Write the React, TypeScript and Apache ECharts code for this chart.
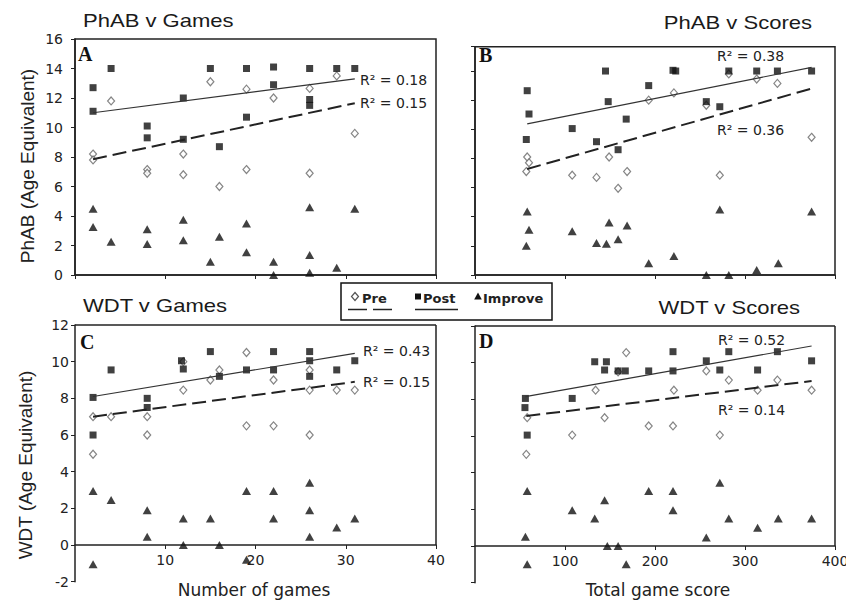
import React, { useEffect, useRef } from "react";
import * as echarts from "echarts";

// ---- Panel A: PhAB v Games ----
const phabGamesPre = [[2, 8.2], [2, 7.8], [4, 11.8], [8, 7.15], [8, 6.9], [12, 8.2], [12, 6.8], [15, 13.1], [16, 6.0], [19, 12.6], [19, 7.15], [22, 12.0], [26, 12.65], [26, 6.9], [29, 13.5], [31, 9.6]];
const phabGamesPost = [[2, 12.7], [2, 11.1], [4, 14.0], [8, 10.1], [8, 9.3], [12, 12.0], [12, 9.2], [15, 14.0], [16, 8.7], [19, 14.0], [19, 10.7], [22, 14.1], [22, 12.9], [26, 14.0], [26, 11.9], [26, 11.5], [29, 14.0], [31, 14.0]];
const phabGamesImprove = [[2, 4.5], [2, 3.25], [4, 2.25], [8, 3.1], [8, 2.1], [12, 3.75], [12, 2.35], [15, 0.9], [16, 2.6], [19, 3.5], [19, 1.55], [22, 0.9], [22, 0], [26, 4.6], [26, 1.35], [26, 0.15], [29, 0.5], [31, 4.5]];
const phabGamesPostFit = [[2, 11.0], [31, 13.3]];
const phabGamesPreFit = [[2, 7.85], [31, 11.65]];

// ---- Panel B: PhAB v Scores ----
const phabScoresPre = [[57, 7.1], [58, 8.1], [60, 7.7], [108, 6.85], [135, 6.7], [149, 8.1], [159, 5.95], [169, 7.1], [193, 12.0], [221, 12.5], [257, 11.65], [272, 6.85], [282, 13.8], [313, 13.45], [336, 13.15], [374, 9.45]];
const phabScoresPost = [[57, 9.3], [58, 12.65], [60, 11.05], [108, 10.05], [135, 9.15], [145, 14.0], [148, 11.9], [159, 8.6], [168, 10.7], [193, 13.0], [220, 14.05], [223, 14.0], [257, 11.9], [272, 11.55], [282, 14.0], [313, 14.0], [336, 14.0], [374, 14.0]];
const phabScoresImprove = [[57, 2.0], [58, 4.35], [60, 3.1], [108, 3.0], [135, 2.2], [146, 2.15], [149, 3.6], [159, 2.45], [169, 3.4], [193, 0.8], [221, 1.3], [257, 0], [272, 4.5], [282, 0], [313, 0.35], [337, 0.8], [374, 4.35]];
const phabScoresPostFit = [[58, 10.37], [374, 14.25]];
const phabScoresPreFit = [[58, 7.28], [374, 12.8]];

// ---- Panel C: WDT v Games ----
const wdtGamesPre = [[2, 7.0], [2, 4.95], [4, 7.0], [8, 7.0], [8, 6.0], [12, 8.45], [12, 10.0], [15, 9.0], [16, 9.55], [19, 10.5], [19, 6.5], [22, 9.0], [22, 6.5], [26, 9.55], [26, 8.45], [26, 6.0], [29, 8.45], [31, 8.45]];
const wdtGamesPost = [[2, 8.05], [2, 6.0], [4, 9.55], [8, 8.0], [8, 7.5], [11.8, 10.05], [12, 9.6], [15, 10.55], [16, 9.2], [19, 9.55], [22, 10.55], [22, 9.55], [26, 10.55], [26, 10.05], [26, 9.2], [29, 9.55], [31, 10.05]];
const wdtGamesImprove = [[2, 2.95], [2, -1.05], [4, 2.45], [8, 1.9], [8, 0.45], [12, 1.45], [12, 0], [15, 1.45], [16, 0], [19, 2.95], [19, -0.8], [22, 2.95], [22, 1.45], [26, 3.4], [26, 1.9], [26, 0.45], [29, 0.95], [31, 1.45]];
const wdtGamesPostFit = [[2, 8.1], [31, 10.45]];
const wdtGamesPreFit = [[2, 7.0], [31, 8.9]];

// ---- Panel D: WDT v Scores ----
const wdtScoresPre = [[58, 7.0], [57, 5.0], [108, 6.05], [134, 8.5], [144, 7.0], [159, 9.5], [168, 10.55], [193, 6.55], [220, 6.55], [221, 8.5], [257, 9.55], [272, 6.05], [282, 9.05], [314, 8.5], [336, 9.05], [374, 8.5]];
const wdtScoresPost = [[56, 8.05], [55.5, 7.55], [58, 6.05], [108, 8.05], [133, 10.05], [146, 10.05], [144, 9.6], [159, 9.55], [167, 9.55], [193, 9.55], [220, 10.6], [220, 9.55], [257, 10.1], [272, 9.6], [282, 10.6], [314, 9.6], [336, 10.6], [374, 10.1]];
const wdtScoresImprove = [[58, 3.0], [56, 0.5], [58, -1.0], [108, 1.95], [133, 1.5], [144, 2.5], [147, 0], [159, 0], [168, -1.0], [193, 3.0], [220, 3.0], [220, 1.95], [257, 0.47], [272, 3.45], [282, 1.5], [314, 1.0], [337, 1.5], [374, 1.5]];
const wdtScoresPostFit = [[56, 8.15], [374, 10.91]];
const wdtScoresPreFit = [[57, 7.09], [374, 9.0]];

const panelTitles = ["PhAB v Games", "PhAB v Scores", "WDT v Games", "WDT v Scores"];
const panelLetters = ["A", "B", "C", "D"];
const rSquaredPost = ["R² = 0.18", "R² = 0.38", "R² = 0.43", "R² = 0.52"];
const rSquaredPre = ["R² = 0.15", "R² = 0.36", "R² = 0.15", "R² = 0.14"];
const legendNames = ["Pre", "Post", "Improve"];

const INK = "#222";
const SANS = "DejaVu Sans";
const ARIAL = "Liberation Sans";

// lower panels: y from -2 to 12, x axis drawn at y = 0
const LOW_GRID_H = 256.7;
const ZERO_OFFSET = -(LOW_GRID_H * 2) / 14;

function axisBase() {
  return {
    type: "value",
    splitLine: { show: false },
    axisLine: { show: true, onZero: false, lineStyle: { color: INK, width: 1.5 } },
    axisTick: { show: true, inside: false, length: 4, lineStyle: { color: INK, width: 1 } },
  };
}

function xAxis(idx: number, max: number, interval: number, labels: boolean, offset: number) {
  return {
    ...axisBase(),
    gridIndex: idx,
    position: "bottom",
    offset,
    min: 0,
    max,
    interval,
    axisLabel: {
      show: labels,
      showMinLabel: false,
      margin: 8,
      fontSize: 14,
      fontFamily: SANS,
      color: INK,
    },
  };
}

function yAxis(idx: number, min: number, max: number, labels: boolean, margin: number) {
  return {
    ...axisBase(),
    gridIndex: idx,
    position: "left",
    min,
    max,
    interval: 2,
    axisLabel: {
      show: labels,
      margin,
      fontSize: 14,
      fontFamily: SANS,
      color: INK,
    },
  };
}

function panelSeries(idx: number, pre: number[][], post: number[][], imp: number[][], preFit: number[][], postFit: number[][], border: number[][][] | null) {
  const common = { xAxisIndex: idx, yAxisIndex: idx, silent: true };
  const out: any[] = [
    {
      ...common,
      name: legendNames[0],
      type: "scatter",
      data: pre,
      symbol: "diamond",
      symbolSize: [7, 8],
      itemStyle: { color: "#fff", borderColor: "#666", borderWidth: 1.2 },
      z: 2,
    },
    {
      ...common,
      name: legendNames[1],
      type: "scatter",
      data: post,
      symbol: "rect",
      symbolSize: 7,
      itemStyle: { color: "#111" },
      z: 3,
    },
    {
      ...common,
      name: legendNames[2],
      type: "scatter",
      data: imp,
      symbol: "triangle",
      symbolSize: [9, 8],
      itemStyle: { color: "#111" },
      z: 3,
    },
    {
      ...common,
      type: "line",
      data: preFit,
      symbol: "none",
      lineStyle: { color: INK, width: 2, type: [14, 6] },
      z: 5,
    },
    {
      ...common,
      type: "line",
      data: postFit,
      symbol: "none",
      lineStyle: { color: "#333", width: 1.2 },
      z: 5,
      markLine: border
        ? {
            silent: true,
            symbol: ["none", "none"],
            label: { show: false },
            lineStyle: { color: INK, width: 1.5, type: "solid" },
            data: border.map((seg) => [{ coord: seg[0] }, { coord: seg[1] }]),
          }
        : undefined,
    },
  ];
  return out;
}

function txt(x: number, y: number, text: string, size: number, extra: any = {}, scaleX = 1) {
  return {
    type: "text",
    x,
    y,
    scaleX,
    silent: true,
    style: {
      text,
      fontSize: size,
      fontFamily: SANS,
      fill: INK,
      align: "left",
      verticalAlign: "middle",
      ...extra,
    },
  };
}

export default function App() {
  const ref = useRef<HTMLDivElement>(null);

  useEffect(() => {
    if (!ref.current) return;
    const chart = echarts.init(ref.current, null, { renderer: "svg" });

    const boxGrid = { show: true, borderColor: INK, borderWidth: 1.5, backgroundColor: "transparent", outerBoundsMode: "none" };
    const titleFont = { fontFamily: ARIAL, fill: "#1a1a1a" };
    const letterFont = { fontFamily: "Liberation Serif", fontWeight: "bold", fill: "#111" };

    const option: any = {
      animation: false,
      backgroundColor: "#fff",
      grid: [
        { ...boxGrid, left: 75, top: 39, width: 361, height: 236 },
        { ...boxGrid, left: 475, top: 46.7, width: 360, height: 228.3 },
        { left: 75, top: 325, width: 361, height: LOW_GRID_H, outerBoundsMode: "none" },
        { left: 475, top: 326, width: 360, height: LOW_GRID_H, outerBoundsMode: "none" },
      ],
      xAxis: [
        xAxis(0, 40, 10, false, 0),
        xAxis(1, 400, 100, false, 0),
        xAxis(2, 40, 10, true, ZERO_OFFSET),
        xAxis(3, 400, 100, true, ZERO_OFFSET),
      ],
      yAxis: [
        yAxis(0, 0, 16, true, 12),
        yAxis(1, 0, 15.67, false, 8),
        yAxis(2, -2, 12, true, 6),
        yAxis(3, -2, 12, false, 8),
      ],
      series: [
        ...panelSeries(0, phabGamesPre, phabGamesPost, phabGamesImprove, phabGamesPreFit, phabGamesPostFit, null),
        ...panelSeries(1, phabScoresPre, phabScoresPost, phabScoresImprove, phabScoresPreFit, phabScoresPostFit, null),
        ...panelSeries(2, wdtGamesPre, wdtGamesPost, wdtGamesImprove, wdtGamesPreFit, wdtGamesPostFit, [
          [[0, 12], [40, 12]],
          [[40, 12], [40, 0]],
        ]),
        ...panelSeries(3, wdtScoresPre, wdtScoresPost, wdtScoresImprove, wdtScoresPreFit, wdtScoresPostFit, [
          [[0, 12], [400, 12]],
          [[400, 12], [400, 0]],
        ]),
      ],
      graphic: [
        // titles
        txt(83, 20, panelTitles[0], 19, titleFont, 1.16),
        txt(812, 22.5, panelTitles[1], 19, { ...titleFont, align: "right" }, 1.16),
        txt(83, 305.5, panelTitles[2], 19, titleFont, 1.16),
        txt(800, 307.5, panelTitles[3], 19, { ...titleFont, align: "right" }, 1.16),
        // panel letters
        txt(78, 54, panelLetters[0], 20, letterFont),
        txt(479, 55, panelLetters[1], 20, letterFont),
        txt(80, 342, panelLetters[2], 20, letterFont),
        txt(479, 341, panelLetters[3], 20, letterFont),
        // R squared
        txt(360, 80, rSquaredPost[0], 14),
        txt(360, 103, rSquaredPre[0], 14),
        txt(717, 56, rSquaredPost[1], 14),
        txt(717, 130, rSquaredPre[1], 14),
        txt(363, 351, rSquaredPost[2], 14),
        txt(363, 382, rSquaredPre[2], 14),
        txt(718, 340, rSquaredPost[3], 14),
        txt(718, 410, rSquaredPre[3], 14),
        // axis names
        {
          type: "text",
          x: 27,
          y: 166,
          rotation: Math.PI / 2,
          silent: true,
          style: { text: "PhAB (Age Equivalent)", fontSize: 19, fontFamily: ARIAL, fill: INK, align: "center", verticalAlign: "middle" },
        },
        {
          type: "text",
          x: 25,
          y: 465,
          rotation: Math.PI / 2,
          silent: true,
          style: { text: "WDT (Age Equivalent)", fontSize: 19, fontFamily: ARIAL, fill: INK, align: "center", verticalAlign: "middle" },
        },
        txt(254, 590, "Number of games", 17, { align: "center" }),
        txt(658, 590, "Total game score", 17, { align: "center" }),
        // legend box
        {
          type: "rect",
          silent: true,
          z: 100,
          shape: { x: 341, y: 283, width: 211, height: 37 },
          style: { fill: "#fff", stroke: "#111", lineWidth: 1.5 },
        },
        {
          type: "polygon",
          silent: true,
          z: 101,
          shape: { points: [[355, 292.5], [358.5, 296.5], [355, 300.5], [351.5, 296.5]] },
          style: { fill: "#fff", stroke: "#555", lineWidth: 1.2 },
        },
        {
          type: "rect",
          silent: true,
          z: 101,
          shape: { x: 415, y: 293.5, width: 6, height: 6 },
          style: { fill: "#111" },
        },
        {
          type: "polygon",
          silent: true,
          z: 101,
          shape: { points: [[478, 292.5], [481.8, 299.5], [474.2, 299.5]] },
          style: { fill: "#111" },
        },
        { ...txt(362, 298, legendNames[0], 13, { fontWeight: "bold" }), z: 101 },
        { ...txt(423, 298, legendNames[1], 13, { fontWeight: "bold" }), z: 101 },
        { ...txt(483, 298, legendNames[2], 13, { fontWeight: "bold" }), z: 101 },
        { type: "line", silent: true, z: 101, shape: { x1: 348, y1: 309.5, x2: 367, y2: 309.5 }, style: { stroke: INK, lineWidth: 1.5 } },
        { type: "line", silent: true, z: 101, shape: { x1: 373, y1: 309.5, x2: 392, y2: 309.5 }, style: { stroke: INK, lineWidth: 1.5 } },
        { type: "line", silent: true, z: 101, shape: { x1: 415, y1: 309.5, x2: 458, y2: 309.5 }, style: { stroke: INK, lineWidth: 1.5 } },
      ],
    };

    chart.setOption(option);
    return () => chart.dispose();
  }, []);

  return (
    <div
      ref={ref}
      style={{ position: "absolute", left: 0, top: 0, width: 846, height: 603, background: "#fff" }}
    />
  );
}
